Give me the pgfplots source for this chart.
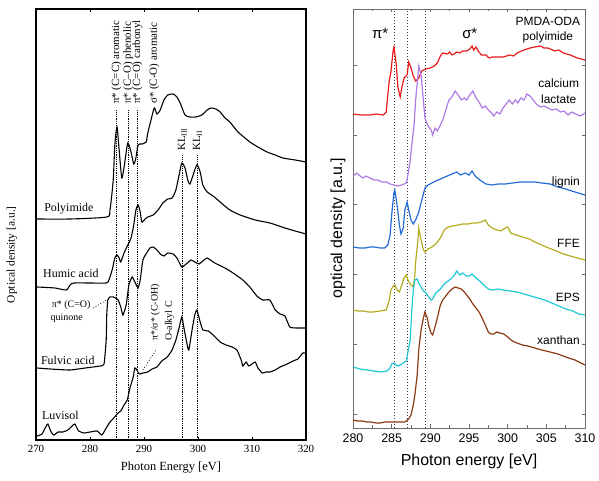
\documentclass[border=0pt]{standalone}
\usepackage{pgfplots}
\pgfplotsset{compat=1.18}
\usepackage{fontspec}
\setmainfont{Liberation Serif}
\newfontfamily\sansf{Liberation Sans}
\definecolor{cred}{RGB}{232,28,28}
\definecolor{cpur}{RGB}{176,122,230}
\definecolor{cblu}{RGB}{38,108,214}
\definecolor{coli}{RGB}{182,170,30}
\definecolor{ccya}{RGB}{30,200,212}
\definecolor{cbro}{RGB}{140,60,20}
\begin{document}
\begin{tikzpicture}
\useasboundingbox (0bp,0bp) rectangle (599bp,481bp);
% ---------------- LEFT PANEL ----------------
\begin{axis}[at={(36bp,41bp)}, anchor=south west, scale only axis,
  width=270bp, height=431bp, xmin=270, xmax=320, ymin=0, ymax=431,
  clip=false, axis line style={line width=1.6pt},
  xtick={270,280,...,320}, ytick=\empty,
  major tick length=3bp, tick style={black, line width=0.6pt},
  /pgf/number format/assume math mode=true,
  /pgf/number format/1000 sep={},
  xticklabel style={font=\fontsize{11}{13}\selectfont, yshift=-1.5bp},
  xlabel={Photon Energy [eV]},
  xlabel style={font=\fontsize{12.5}{14}\selectfont, at={(axis description cs:0.5,-0.063)}, anchor=center},
  ylabel={Optical density [a.u.]},
  ylabel style={font=\fontsize{11.5}{13}\selectfont, at={(axis description cs:-0.089,0.43)}, anchor=center},
]
% Polyimide
\addplot[black, line width=1.1bp, smooth, tension=0.4] coordinates {
(270.2,221)(276.3,221)(283.1,223)(283.7,230)(284.3,260)(284.6,295)(285.0,313)(285.4,290)(285.9,262)(286.5,280)(287.0,297)(287.6,288)(288.1,276)(288.5,282)(288.9,295)(289.6,296)(290.4,298)(290.7,307)(291.3,320)(291.9,332)(292.4,326)(293.0,330)(293.7,340)(294.4,345)(295.4,346)(296.1,343)(296.7,337)(297.6,325)(298.5,323)(299.6,323)(300.7,325)(301.7,330)(302.4,332)(303.3,331)(304.1,328)(305.0,322)(305.9,318)(307.4,308)(308.7,302)(309.6,298)(311.1,293)(312.8,288)(314.3,285)(315.7,282)(318.0,280)(320.0,278)};
% Humic acid
\addplot[black, line width=1.1bp, smooth, tension=0.4] coordinates {
(270.2,153)(273.5,152)(275.6,150)(276.3,155)(277.0,157)(280.0,157)(283.0,157)(283.5,160)(284.1,170)(284.6,182)(285.0,185)(285.4,182)(285.7,178)(286.3,187)(287.0,195)(287.6,202)(288.1,215)(288.5,230)(288.9,235)(289.3,228)(289.6,218)(290.2,221)(290.7,223)(291.7,225)(292.6,230)(293.5,237)(294.4,241)(295.2,242)(295.9,250)(296.5,265)(297.0,277)(297.6,272)(298.1,260)(298.5,256)(299.1,265)(299.8,275)(300.4,268)(300.9,255)(301.7,248)(302.8,244)(304.1,238)(305.9,230)(307.8,225)(310.6,220)(313.3,217)(316.1,212)(318.0,209)(320.0,206)};
% Fulvic acid
\addplot[black, line width=1.1bp, smooth, tension=0.3] coordinates {
(270.2,72)(272.6,71)(276.3,70)(279.1,72)(281.9,74)(282.6,76)(283.0,100)(283.1,125)(283.3,140)(283.7,143)(284.4,143)(285.2,140)(285.7,133)(286.1,125)(286.7,135)(287.2,155)(287.8,163)(288.3,158)(288.9,152)(289.3,160)(289.8,180)(290.6,188)(291.1,192)(291.7,193)(292.4,190)(293.0,186)(293.7,184)(294.4,187)(295.4,186)(296.1,182)(297.0,173)(297.8,176)(298.7,180)(299.4,178)(300.2,176)(300.9,179)(301.7,182)(303.1,177)(305.0,172)(306.5,167)(308.3,160)(309.6,153)(310.9,144)(312.0,140)(313.3,140)(314.3,130)(315.2,126)(316.1,124)(317.0,113)(318.3,112)(320.0,112)};
% Luvisol
\addplot[black, line width=1.1bp, smooth, tension=0.3] coordinates {
(270.2,4)(271.1,6)(271.9,14)(272.2,16)(272.8,8)(273.3,5)(274.1,8)(275.0,8)(275.9,10)(276.7,14)(277.2,16)(277.9,9)(278.9,7)(280.0,8)(281.3,9)(282.2,5)(283.0,12)(283.7,18)(284.4,22)(285.2,27)(285.7,29)(286.3,35)(286.9,40)(287.4,52)(288.0,63)(288.3,72)(288.7,70)(289.1,66)(289.8,67)(290.7,68)(291.5,71)(292.4,73)(293.3,79)(294.3,83)(295.2,90)(295.9,100)(296.5,112)(297.0,123)(297.4,112)(298.0,95)(298.3,90)(298.9,110)(299.4,125)(299.8,130)(300.4,118)(300.9,110)(301.9,109)(302.8,105)(304.1,98)(305.2,95)(306.3,93)(307.2,90)(308.0,80)(308.3,74)(308.9,78)(309.4,74)(310.0,76)(310.6,78)(311.1,72)(311.9,67)(312.6,68)(313.3,68)(314.3,70)(315.2,73)(316.5,76)(317.6,79)(318.5,81)(319.1,85)(319.4,87)(320.0,87)};
% reference lines
\addplot[black, densely dotted, line width=0.8bp] coordinates {(284.9,0)(284.9,330)};
\addplot[black, densely dotted, line width=0.8bp] coordinates {(287.1,0)(287.1,330)};
\addplot[black, densely dotted, line width=0.8bp] coordinates {(288.8,0)(288.8,330)};
\addplot[black, densely dotted, line width=0.8bp] coordinates {(297.1,0)(297.1,285)};
\addplot[black, densely dotted, line width=0.8bp] coordinates {(299.9,0)(299.9,285)};
\addplot[black, dotted, line width=0.8bp] coordinates {(280.6,132)(283.1,140)};
\addplot[black, dotted, line width=0.8bp] coordinates {(289.8,70)(292.2,90)};
% labels
\node[rotate=90, anchor=west, font=\fontsize{11}{12}\selectfont, inner sep=1bp] at (axis cs:284.9,335) {π* (C=C) aromatic};
\node[rotate=90, anchor=west, font=\fontsize{11}{12}\selectfont, inner sep=1bp] at (axis cs:287.1,335) {π* (C–O) phenolic};
\node[rotate=90, anchor=west, font=\fontsize{11}{12}\selectfont, inner sep=1bp] at (axis cs:288.8,335) {π* (C=O) carbonyl};
\node[rotate=90, anchor=west, font=\fontsize{11}{12}\selectfont, inner sep=1bp] at (axis cs:291.9,335) {σ* (C-O) aromatic};
\node[rotate=90, anchor=west, font=\fontsize{11}{12}\selectfont, inner sep=1bp] at (axis cs:297.1,288) {KL\textsubscript{III}};
\node[rotate=90, anchor=west, font=\fontsize{11}{12}\selectfont, inner sep=1bp] at (axis cs:299.9,288) {KL\textsubscript{II}};
\node[rotate=90, anchor=west, font=\fontsize{10}{12}\selectfont, inner sep=1bp] at (axis cs:292.1,98) {π*/σ* (C-OH)};
\node[rotate=90, anchor=west, font=\fontsize{10}{12}\selectfont, inner sep=1bp] at (axis cs:294.7,98) {O-alkyl C};
\node[anchor=east, font=\fontsize{10}{12}\selectfont, inner sep=1bp] at (axis cs:280.3,135) {π* (C=O)};
\node[anchor=center, font=\fontsize{10}{12}\selectfont, inner sep=1bp] at (axis cs:275.7,122) {quinone};
\node[anchor=west, font=\fontsize{12}{14}\selectfont, inner sep=0bp] at (axis cs:271.5,231) {Polyimide};
\node[anchor=west, font=\fontsize{12}{14}\selectfont, inner sep=0bp] at (axis cs:271.3,167) {Humic acid};
\node[anchor=west, font=\fontsize{12}{14}\selectfont, inner sep=0bp] at (axis cs:270.9,80) {Fulvic acid};
\node[anchor=west, font=\fontsize{12}{14}\selectfont, inner sep=0bp] at (axis cs:271.1,25) {Luvisol};
\end{axis}
% ---------------- RIGHT PANEL ----------------
\begin{axis}[at={(353bp,53bp)}, anchor=south west, scale only axis,
  width=232bp, height=419bp, xmin=280, xmax=310, ymin=0, ymax=419,
  clip=false, axis line style={line width=0.8pt, gray!85!black},
  xtick={280,285,...,310}, minor x tick num=1,
  ytick={14,84,154,224,293,363}, yticklabels={},
  major tick length=3.5bp, minor tick length=2.5bp,
  tick style={gray!85!black, line width=0.7pt},
  /pgf/number format/assume math mode=true,
  /pgf/number format/1000 sep={},
  xticklabel style={font=\sansf\fontsize{12.5}{14}\selectfont, yshift=-2bp},
  xlabel={Photon energy [eV]},
  xlabel style={font=\sansf\fontsize{16}{18}\selectfont, at={(axis description cs:0.5,-0.079)}, anchor=center},
  ylabel={optical density [a.u.]},
  ylabel style={font=\sansf\fontsize{16}{18}\selectfont, at={(axis description cs:-0.065,0.477)}, anchor=center},
]
\addplot[black!75, dotted, line width=1bp] coordinates {(285.4,0)(285.4,419)};
\addplot[black!75, dotted, line width=1bp] coordinates {(287.1,0)(287.1,419)};
\addplot[black!75, dotted, line width=1bp] coordinates {(289.4,0)(289.4,419)};
% PMDA-ODA
\addplot[cred, line width=1.2bp] coordinates {
(280.0,314)(281.1,313)(282.2,313)(283.0,314)(283.9,313)(284.3,316)(284.5,333)(284.7,348)(284.9,356)(285.2,378)(285.3,381)(285.6,363)(285.8,341)(286.1,331)(286.3,340)(286.6,350)(287.0,353)(287.2,366)(287.5,360)(287.8,352)(288.1,347)(288.5,350)(288.9,357)(289.4,359)(290.0,360)(290.5,362)(290.9,365)(291.3,372)(291.6,375)(292.2,374)(292.5,376)(292.8,373)(293.1,374)(293.4,376)(293.8,375)(294.2,377)(294.7,377)(295.1,379)(295.4,382)(295.6,378)(295.9,381)(296.2,377)(296.6,373)(297.2,373)(297.6,370)(298.0,371)(298.8,371)(299.4,371)(300.3,373)(300.8,372)(301.2,375)(302.1,378)(302.9,380)(303.5,381)(304.2,382)(304.7,380)(305.2,380)(306.1,377)(306.6,378)(307.2,375)(308.1,373)(309.0,370)(310.0,368)};
% calcium lactate
\addplot[cpur, line width=1.2bp] coordinates {
(280.0,252)(280.5,255)(280.9,252)(281.3,250)(281.7,252)(282.2,250)(282.7,248)(283.2,248)(283.7,246)(284.3,246)(284.8,244)(285.3,243)(285.8,242)(286.3,243)(286.9,245)(287.1,253)(287.4,268)(287.6,283)(287.9,303)(288.1,328)(288.4,353)(288.5,362)(288.8,353)(289.1,328)(289.3,310)(289.7,302)(290.1,298)(290.3,293)(290.6,300)(290.9,297)(291.3,303)(291.6,308)(292.0,318)(292.4,328)(292.8,331)(293.2,337)(293.6,333)(294.0,328)(294.4,330)(294.7,328)(295.1,333)(295.5,337)(295.9,330)(296.3,326)(296.7,320)(297.1,322)(297.5,318)(297.8,316)(298.2,312)(298.6,316)(299.0,314)(299.4,320)(299.8,324)(300.2,328)(300.6,324)(301.0,328)(301.3,325)(301.7,330)(302.1,328)(302.5,334)(302.9,332)(303.3,328)(303.7,324)(304.2,321)(304.7,322)(305.2,320)(305.7,318)(306.3,319)(306.8,316)(307.3,317)(307.8,313)(308.3,316)(308.8,314)(309.4,312)(310.0,315)};
% lignin
\addplot[cblu, line width=1.2bp] coordinates {
(280.0,181)(280.8,180)(281.6,180)(282.2,181)(282.8,181)(283.5,180)(284.1,180)(284.5,183)(284.8,193)(285.0,213)(285.3,236)(285.4,238)(285.7,223)(286.0,203)(286.2,194)(286.5,200)(286.7,218)(287.0,226)(287.2,218)(287.5,208)(287.8,204)(288.1,208)(288.5,216)(288.9,228)(289.3,240)(289.7,243)(290.2,245)(290.7,247)(291.3,249)(291.9,251)(292.5,253)(293.1,255)(293.4,256)(293.9,253)(294.5,255)(295.0,253)(295.4,257)(295.8,252)(296.4,248)(297.2,244)(298.0,243)(298.8,244)(299.7,244)(300.6,245)(301.6,246)(302.6,246)(303.5,246)(304.4,245)(305.5,244)(306.5,241)(307.5,239)(308.7,236)(310.0,233)};
% FFE
\addplot[coli, line width=1.2bp] coordinates {
(280.0,118)(280.6,117)(281.3,117)(282.0,116)(282.6,116)(283.5,117)(284.3,118)(284.7,128)(284.9,138)(285.2,142)(285.4,143)(285.7,138)(286.0,136)(286.3,143)(286.6,150)(286.9,153)(287.1,148)(287.4,144)(287.8,141)(288.0,153)(288.1,166)(288.4,188)(288.5,200)(288.8,188)(289.1,178)(289.3,176)(289.7,179)(290.2,181)(290.7,184)(291.3,190)(291.8,198)(292.3,201)(292.9,202)(293.6,203)(294.2,204)(294.9,204)(295.5,205)(296.0,205)(296.6,206)(297.1,208)(297.5,203)(298.0,200)(298.6,198)(299.1,197)(299.7,200)(300.0,201)(300.4,195)(301.1,193)(301.9,191)(302.8,189)(303.5,186)(304.4,183)(305.3,180)(306.3,177)(307.2,174)(308.1,172)(309.0,170)(310.0,168)};
% EPS
\addplot[ccya, line width=1.2bp] coordinates {
(280.0,61)(280.9,59)(281.8,58)(282.7,57)(283.6,56)(284.4,57)(284.8,60)(285.0,64)(285.3,65)(285.7,62)(286.1,63)(286.5,65)(286.9,67)(287.1,76)(287.4,88)(287.6,118)(287.8,138)(288.0,148)(288.3,149)(288.5,145)(288.8,141)(289.1,137)(289.3,136)(289.7,132)(290.1,128)(290.3,129)(290.7,135)(291.3,139)(291.8,144)(292.3,147)(292.8,150)(293.2,154)(293.4,157)(293.8,153)(294.2,155)(294.6,152)(295.0,152)(295.4,154)(295.9,150)(296.4,147)(296.9,143)(297.5,139)(298.1,138)(298.8,139)(299.4,138)(300.3,137)(301.2,136)(302.1,134)(303.0,132)(303.9,130)(304.8,128)(305.7,125)(306.6,122)(307.5,119)(308.4,117)(309.2,114)(310.0,113)};
% xanthan
\addplot[cbro, line width=1.2bp] coordinates {
(280.0,8)(280.6,7)(281.2,7)(281.8,6)(282.3,6)(283.0,5)(283.5,5)(284.1,6)(284.7,6)(285.3,6)(285.8,6)(286.7,6)(287.2,9)(287.5,13)(287.8,23)(288.0,33)(288.3,53)(288.5,78)(288.8,98)(289.1,110)(289.3,116)(289.6,110)(289.8,102)(290.1,95)(290.3,93)(290.6,101)(290.9,110)(291.3,123)(291.6,128)(292.0,132)(292.4,136)(292.8,139)(293.2,141)(293.6,140)(294.0,139)(294.4,136)(294.7,133)(295.1,129)(295.5,124)(295.9,120)(296.3,116)(296.7,110)(297.1,103)(297.5,96)(297.8,94)(298.2,94)(298.6,96)(299.0,95)(299.5,94)(300.0,91)(300.6,87)(301.2,85)(301.9,83)(302.6,82)(303.5,80)(304.4,78)(305.5,76)(306.5,74)(307.5,71)(308.7,68)(310.0,63)};
% labels
\node[font=\sansf\fontsize{15}{17}\selectfont] at (axis cs:283.5,395) {π*};
\node[font=\sansf\fontsize{15}{17}\selectfont] at (axis cs:295.1,395) {σ*};
\node[font=\sansf\fontsize{12}{15}\selectfont, align=center, inner sep=0bp] at (axis cs:305.2,398) {PMDA-ODA\\polyimide};
\node[font=\sansf\fontsize{12}{16}\selectfont, align=center, inner sep=0bp] at (axis cs:306.6,337) {calcium\\lactate};
\node[font=\sansf\fontsize{12}{14}\selectfont, anchor=east, inner sep=0bp] at (axis cs:309.35,246) {lignin};
\node[font=\sansf\fontsize{12}{14}\selectfont, anchor=east, inner sep=0bp] at (axis cs:309.35,185) {FFE};
\node[font=\sansf\fontsize{12}{14}\selectfont, anchor=east, inner sep=0bp] at (axis cs:309.35,131) {EPS};
\node[font=\sansf\fontsize{12}{14}\selectfont, anchor=east, inner sep=0bp] at (axis cs:309.35,88) {xanthan};
\end{axis}
\end{tikzpicture}
\end{document}
